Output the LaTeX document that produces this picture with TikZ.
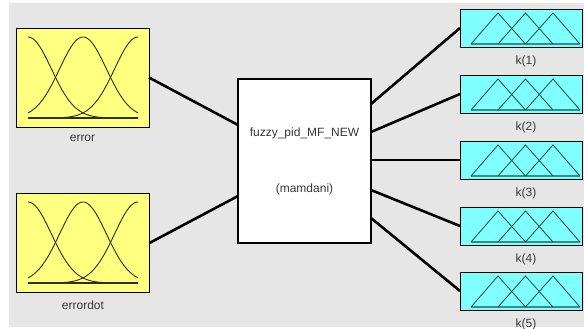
\documentclass[tikz,border=0pt]{standalone}
\usepackage{fontspec}
\setmainfont{Liberation Sans}
\definecolor{bggray}{HTML}{E6E6E6}
\definecolor{mfyellow}{HTML}{FFFF80}
\definecolor{mfcyan}{HTML}{80FFFF}
\definecolor{txtgray}{HTML}{383838}
\definecolor{gaussline}{HTML}{2E2E10}
\definecolor{triline}{HTML}{1A4A4A}
\definecolor{tribase}{HTML}{3A8C8C}
\tikzset{
  inbox/.style={draw=black,line width=0.9pt,fill=mfyellow,minimum width=133pt,minimum height=99pt,inner sep=0pt,outer sep=0pt},
  outbox/.style={draw=black,line width=0.9pt,fill=mfcyan,minimum width=122pt,minimum height=38pt,inner sep=0pt,outer sep=0pt},
  fisbox/.style={draw=black,line width=2.6pt,fill=white,minimum width=133pt,minimum height=164pt,inner sep=0pt,outer sep=0pt},
  lbl/.style={text=txtgray,font=\fontsize{12}{14}\selectfont,inner sep=0pt},
  conn/.style={line width=2.6pt,black},
  mfline/.style={gaussline,line width=0.9pt},
  triln/.style={triline,line width=0.8pt,line join=miter},
}
\newcommand\gaussset[2]{%
  \draw[mfline] plot[domain=0:110,samples=70,smooth] ({#1+\x},{#2+81-81*exp(-(\x*\x)/1095)});
  \draw[mfline] plot[domain=0:110,samples=70,smooth] ({#1+\x},{#2+81-81*exp(-((\x-55)*(\x-55))/1095)});
  \draw[mfline] plot[domain=0:110,samples=70,smooth] ({#1+\x},{#2+81-81*exp(-((\x-110)*(\x-110))/1095)});
  \draw[gaussline,line width=1.3pt] (#1,#2+81) -- (#1+110,#2+81);
}
\newcommand\triset[1]{% #1 = box top
  \draw[tribase,line width=1.4pt] (471,#1+35) -- (580,#1+35);
  \draw[triln] (471,#1+35) -- (498,#1+4) -- (525.5,#1+35);
  \draw[triln] (498,#1+35) -- (525.5,#1+4) -- (553,#1+35);
  \draw[triln] (525.5,#1+35) -- (553,#1+4) -- (580,#1+35);
}
\begin{document}
\begin{tikzpicture}[x=1pt,y=-1pt]
\useasboundingbox (0,0) rectangle (584,329);
\fill[white] (0,0) rectangle (584,329);
\fill[bggray] (9,3) rectangle (584,327);

% input boxes
\node[inbox] (error) at (82.5,77.5) {};
\gaussset{28}{37}
\node[lbl] (errorlbl) at (82.5,138) {error};
\node[inbox] (errordot) at (83,243) {};
\gaussset{28}{202}
\node[lbl] (errordotlbl) at (83,305) {errordot};

% central FIS box
\node[fisbox] (fis) at (304.5,161) {};
\node[lbl] (fisname) at (304.5,133) {fuzzy\_pid\_MF\_NEW};
\node[lbl] (fistype) at (304.5,189) {(mamdani)};

% output boxes
\foreach \i/\t in {1/9,2/75,3/141,4/207,5/272}{
  \node[outbox] (k\i) at (521,\t+19) {};
  \triset{\t}
  \node[lbl] (k\i lbl) at (526,\t+52) {k(\i)};
}

% connection points on FIS box
\coordinate (in1) at (238,125);
\coordinate (in2) at (238,196);
\coordinate (out1) at (371,104);
\coordinate (out2) at (371,132);
\coordinate (out3) at (371,160);
\coordinate (out4) at (371,190);
\coordinate (out5) at (371,218);

\draw[conn] (error.east) -- (in1);
\draw[conn] (errordot.east) -- (in2);
\draw[conn] (out1) -- (k1.west);
\draw[conn] (out2) -- (k2.west);
\draw[conn] (out3) -- (k3.west);
\draw[conn] (out4) -- (k4.west);
\draw[conn] (out5) -- (k5.west);
\end{tikzpicture}
\end{document}
